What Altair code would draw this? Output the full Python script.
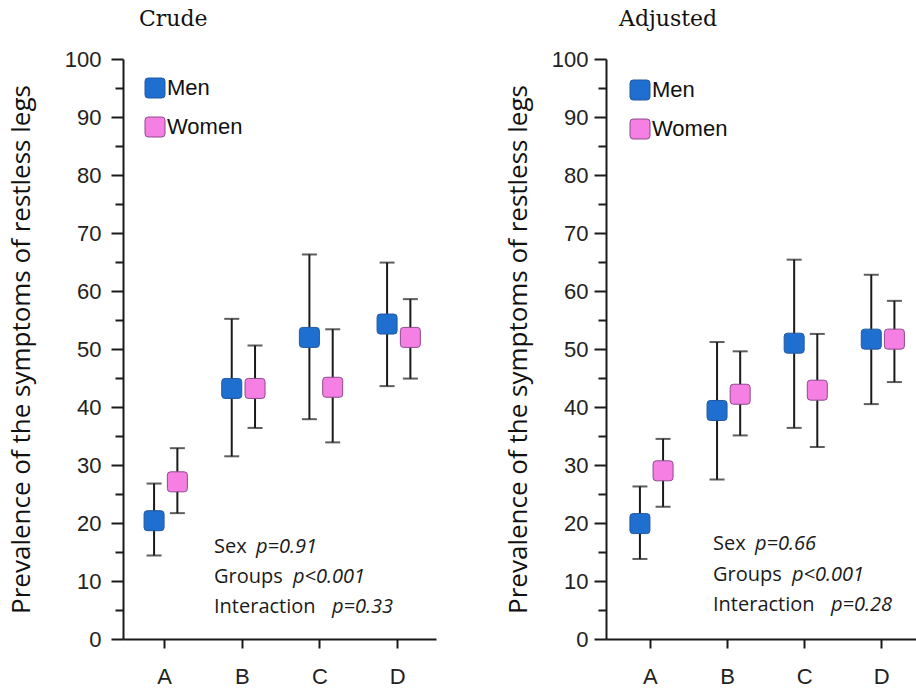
import altair as alt
import pandas as pd

groups = ["A", "B", "C", "D"]
sexes = ["Men", "Women"]

crude_men = [20.4, 43.2, 52.0, 54.3]
crude_men_lo = [14.4, 31.5, 37.9, 43.6]
crude_men_hi = [26.8, 55.2, 66.3, 64.9]
crude_women = [27.1, 43.2, 43.4, 52.0]
crude_women_lo = [21.7, 36.4, 33.9, 44.9]
crude_women_hi = [32.9, 50.6, 53.4, 58.6]

adj_men = [19.9, 39.4, 51.0, 51.7]
adj_men_lo = [13.8, 27.5, 36.4, 40.5]
adj_men_hi = [26.3, 51.2, 65.4, 62.8]
adj_women = [29.0, 42.2, 42.9, 51.7]
adj_women_lo = [22.8, 35.1, 33.1, 44.3]
adj_women_hi = [34.5, 49.6, 52.6, 58.3]

ann_names = ["Sex", "Groups", "Interaction"]
crude_p = ["p=0.91", "p<0.001", "p=0.33"]
adj_p = ["p=0.66", "p<0.001", "p=0.28"]

y_title = "Prevalence of the symptoms of restless legs"

FILL = ["#1e6fd0", "#f57fe3"]
STROKE = ["#23589e", "#8c4a8c"]
INK = "#1a1a1a"
SQ = ("M-0.68,-1 L0.68,-1 Q1,-1 1,-0.68 L1,0.68 Q1,1 0.68,1 L-0.68,1 "
      "Q-1,1 -1,0.68 L-1,-0.68 Q-1,-1 -0.68,-1 Z")


def make_df(m, mlo, mhi, w, wlo, whi):
    rows = []
    for i, g in enumerate(groups):
        rows.append(dict(group=g, gi=i + 1, sex="Men", val=m[i], lo=mlo[i], hi=mhi[i]))
        rows.append(dict(group=g, gi=i + 1, sex="Women", val=w[i], lo=wlo[i], hi=whi[i]))
    return pd.DataFrame(rows)


label_expr = "[" + ",".join("'%s'" % g for g in groups) + "][datum.value - 1]"


def panel(df, title, title_dx, dom, width, title_pad, label_pad, leg_x, leg_y,
          ann_x, p_x, ann_y, pvals):
    base = alt.Chart(df).transform_calculate(
        xpos="datum.gi + (datum.sex === 'Men' ? -0.13 : 0.17)"
    )
    x_axis = alt.Axis(values=[1, 2, 3, 4], labelExpr=label_expr, title=None,
                      grid=False, tickSize=9, labelPadding=18,
                      labelFont="Liberation Sans", labelFontSize=22,
                      labelColor="#222", domainColor=INK, tickColor=INK,
                      domainWidth=2, tickWidth=2)
    x = alt.X("xpos:Q", scale=alt.Scale(domain=dom, nice=False, zero=False), axis=x_axis)
    y_axis = alt.Axis(values=list(range(0, 101, 5)),
                      labelExpr="datum.value % 10 === 0 ? datum.label : ''",
                      tickSize={"condition": {"test": "datum.value % 10 === 0", "value": 12}, "value": 8},
                      labelPadding=label_pad, grid=False,
                      labelFont="Liberation Sans", labelFontSize=22, labelColor="#222",
                      domainColor=INK, tickColor=INK, domainWidth=2, tickWidth=2,
                      title=y_title, titleFont="Open Sans", titleFontSize=26,
                      titleFontWeight="normal", titleColor="#111", titlePadding=title_pad)
    ysc = alt.Scale(domain=[0, 100], nice=False)

    rules = base.mark_rule(color=INK, strokeWidth=2).encode(
        x=x, y=alt.Y("lo:Q", scale=ysc, axis=y_axis), y2="hi:Q")
    cap_hi = base.mark_tick(orient="horizontal", size=15, thickness=2, color=INK).encode(
        x=x, y=alt.Y("hi:Q", scale=ysc, axis=y_axis))
    cap_lo = base.mark_tick(orient="horizontal", size=15, thickness=2, color=INK).encode(
        x=x, y=alt.Y("lo:Q", scale=ysc, axis=y_axis))
    legend = alt.Legend(orient="none", legendX=leg_x, legendY=leg_y, title=None,
                        symbolType=SQ, symbolSize=400, symbolStrokeWidth=1,
                        labelFont="Liberation Sans", labelFontSize=22, labelColor="#111",
                        labelOffset=1, rowPadding=15, padding=0)
    pts = base.mark_point(shape=SQ, size=400, filled=True, opacity=1, strokeWidth=1).encode(
        x=x, y=alt.Y("val:Q", scale=ysc, axis=y_axis),
        fill=alt.Fill("sex:N", scale=alt.Scale(domain=sexes, range=FILL), legend=legend),
        stroke=alt.Stroke("sex:N", scale=alt.Scale(domain=sexes, range=STROKE), legend=legend),
    )
    layers = [rules, cap_hi, cap_lo, pts]
    for i in range(3):
        t1 = alt.Chart(pd.DataFrame({"t": [ann_names[i]]})).mark_text(
            align="left", baseline="middle", font="Open Sans", fontSize=20, color="#1a1a1a"
        ).encode(text="t:N", x=alt.value(ann_x), y=alt.value(ann_y[i]))
        t2 = alt.Chart(pd.DataFrame({"t": [pvals[i]]})).mark_text(
            align="left", baseline="middle", font="Open Sans", fontSize=20, color="#1a1a1a",
            fontStyle="italic"
        ).encode(text="t:N", x=alt.value(p_x[i]), y=alt.value(ann_y[i]))
        layers += [t1, t2]
    return alt.layer(*layers).properties(
        width=width, height=580,
        title=alt.TitleParams(title, anchor="start", dx=title_dx, font="DejaVu Serif",
                              fontSize=22, fontWeight="normal", color="#111",
                              frame="group", baseline="bottom", offset=-5),
    )


crude_df = make_df(crude_men, crude_men_lo, crude_men_hi, crude_women, crude_women_lo, crude_women_hi)
adj_df = make_df(adj_men, adj_men_lo, adj_men_hi, adj_women, adj_women_lo, adj_women_hi)

left = panel(crude_df, "Crude", 16, [0.47, 4.5], 313, 30, 10, 21, 18,
             91, [133, 170, 209], [488, 518, 548], crude_p)
right = panel(adj_df, "Adjusted", 13, [0.43, 4.45], 310, 20, 6, 23, 20,
              107, [149, 186, 225], [485, 516, 546], adj_p)

chart = alt.hconcat(left, right, spacing=69).resolve_scale(
    fill="independent", stroke="independent", x="independent"
).configure_view(stroke=None).properties(
    padding={"left": 8, "top": 8, "right": 0, "bottom": 0}
)

chart.save("out.html", embed_options={"renderer": "svg", "actions": False})
